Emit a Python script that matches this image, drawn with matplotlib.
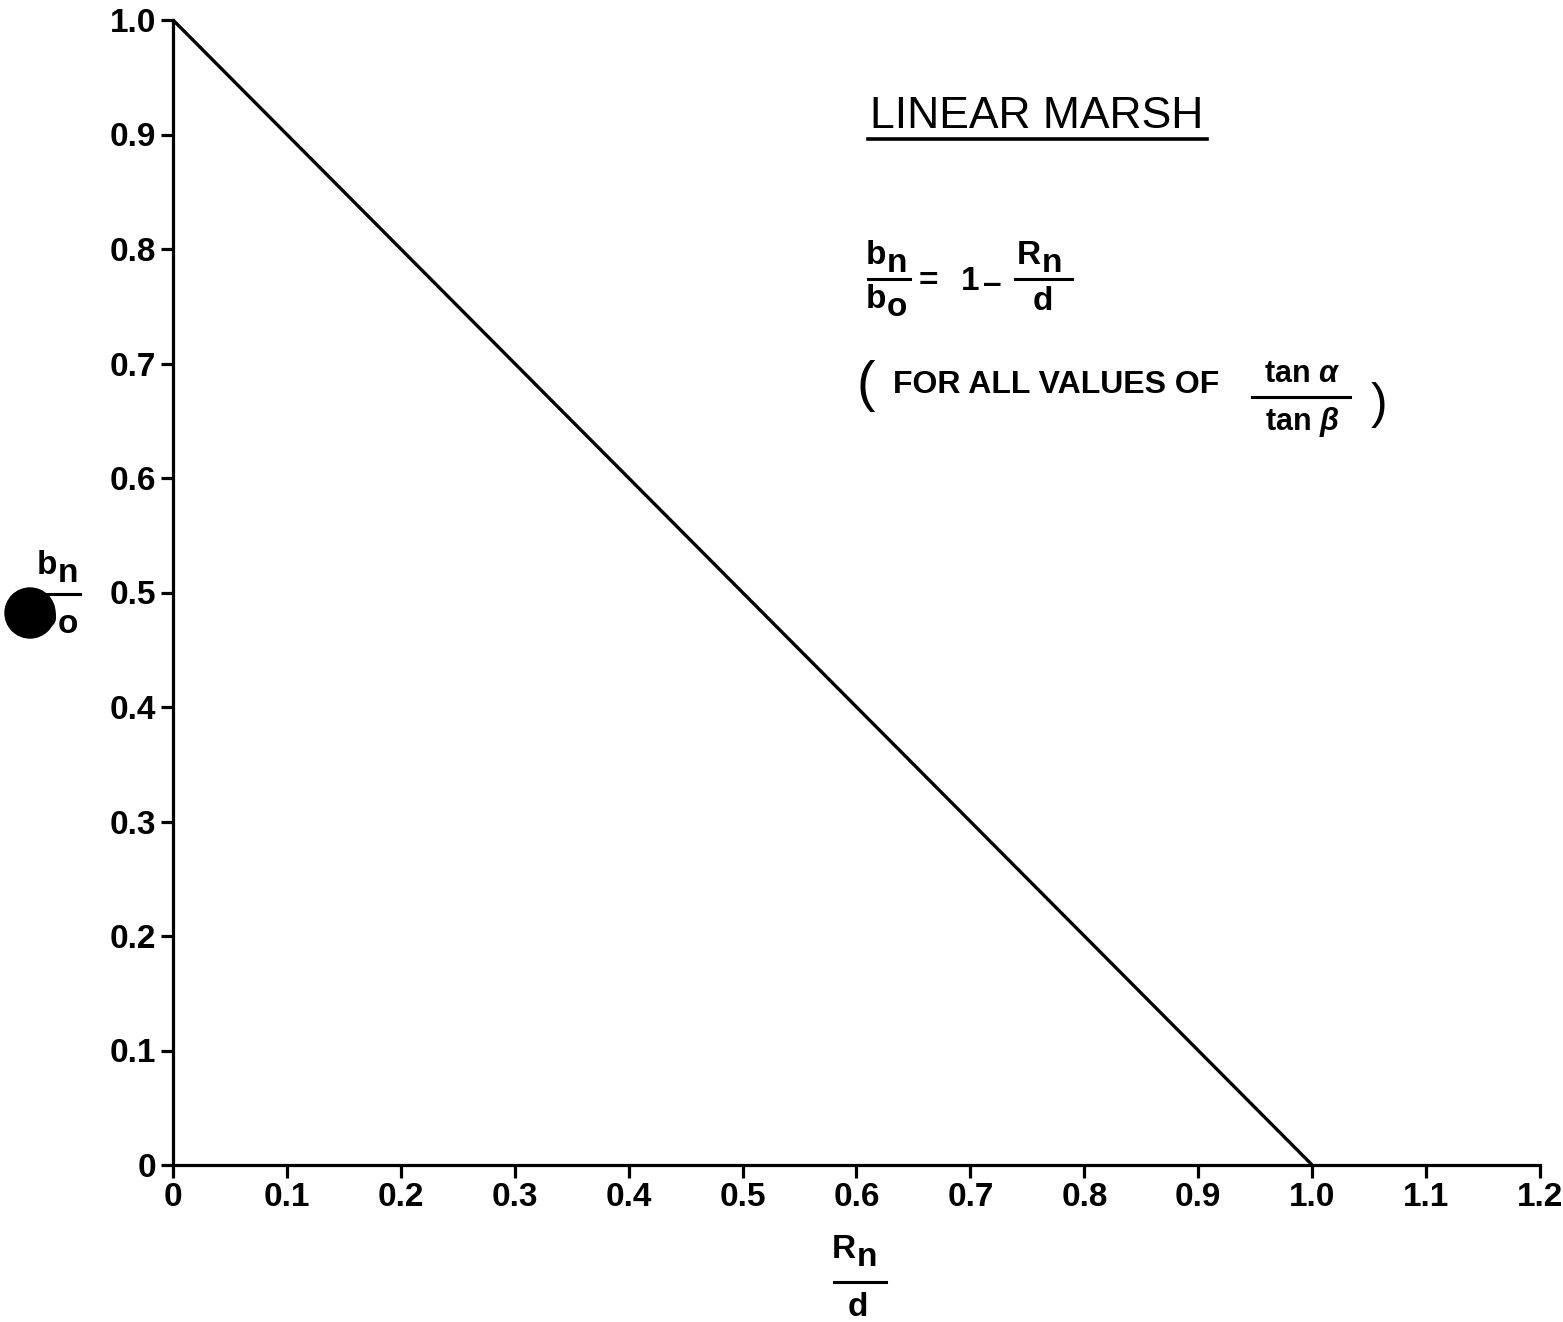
import numpy as np
import matplotlib
matplotlib.use("Agg")
import matplotlib.pyplot as plt
from matplotlib.lines import Line2D
from matplotlib.patches import Circle

# relation b_n/b_o = 1 - R_n/d
rn_over_d = [0.0, 1.0]
bn_over_bo = [1.0, 0.0]

x_ticks = [0, 0.1, 0.2, 0.3, 0.4, 0.5, 0.6, 0.7, 0.8, 0.9, 1.0, 1.1, 1.2]
x_tick_labels = ["0", "0.1", "0.2", "0.3", "0.4", "0.5", "0.6", "0.7", "0.8", "0.9", "1.0", "1.1", "1.2"]
y_ticks = [0, 0.1, 0.2, 0.3, 0.4, 0.5, 0.6, 0.7, 0.8, 0.9, 1.0]
y_tick_labels = ["0", "0.1", "0.2", "0.3", "0.4", "0.5", "0.6", "0.7", "0.8", "0.9", "1.0"]

W, H = 1563, 1322
FONT = "Liberation Sans"

plt.rcParams["font.family"] = [FONT, "DejaVu Sans"]
plt.rcParams["mathtext.fontset"] = "custom"
plt.rcParams["mathtext.it"] = FONT + ":italic:bold"
plt.rcParams["mathtext.rm"] = FONT + ":bold"

fig = plt.figure(figsize=(W / 100, H / 100), dpi=100)
ax = fig.add_axes([173 / W, 1 - 1165 / H, (1540 - 173) / W, (1165 - 20) / H])

ax.plot(rn_over_d, bn_over_bo, color="black", linewidth=2.4, solid_capstyle="butt")

ax.set_xlim(0, 1.2)
ax.set_ylim(0, 1.0)
for side in ["top", "right"]:
    ax.spines[side].set_visible(False)
for side in ["left", "bottom"]:
    ax.spines[side].set_linewidth(2.3)
ax.set_xticks(x_ticks)
ax.set_xticklabels(x_tick_labels, fontsize=24, fontweight="bold")
ax.set_yticks(y_ticks)
ax.set_yticklabels(y_tick_labels, fontsize=24, fontweight="bold")
ax.tick_params(axis="both", direction="out", length=9, width=2.3, pad=3)
ax.patch.set_alpha(0)


def fx(px):
    return px / W


def fy(py):
    return 1 - py / H


def put(px, py, s, size=24, weight="bold", ha="center", style="normal"):
    fig.text(fx(px), fy(py), s, fontsize=size, fontweight=weight, ha=ha,
             va="center", fontstyle=style)


def hbar(x0, x1, py, lw=2.2):
    fig.add_artist(Line2D([fx(x0), fx(x1)], [fy(py), fy(py)], color="black",
                          linewidth=lw, transform=fig.transFigure))


def with_sub(px, py, base, sub, size=24):
    # base letter ending at px, subscript just right of it and a bit lower
    fig.text(fx(px), fy(py), base, fontsize=size, fontweight="bold", ha="right", va="center")
    fig.text(fx(px + 1), fy(py + 7), sub, fontsize=size, fontweight="bold", ha="left", va="center")


# title block
put(870, 117, "LINEAR MARSH", size=32, weight="normal", ha="left")
hbar(868, 1207, 139, lw=2.6)

# b_n / b_o = 1 - R_n / d
with_sub(886, 256, "b", "n")
hbar(868, 910, 279)
with_sub(886, 300, "b", "o")
put(928, 281, "=", size=24)
put(970, 281, "1", size=24)
put(992, 284, "\u2013", size=24)
with_sub(1041, 256, "R", "n")
hbar(1015, 1072, 279)
put(1043, 302, "d", size=24)

# (FOR ALL VALUES OF tan a / tan b)
put(866, 386, "(", size=40, weight="normal")
put(893, 385, "FOR ALL VALUES OF", size=23, ha="left")
put(1302, 374, "tan $\\alpha$", size=22)
hbar(1252, 1350, 397)
put(1302, 422, "tan $\\beta$", size=22)
put(1379, 405, ")", size=36, weight="normal")

# y axis label b_n / b_o
with_sub(57, 566, "b", "n")
hbar(35, 80, 594)
with_sub(57, 618, "b", "o")
fig.add_artist(Circle((30 / 100, (H - 613) / 100), 0.25, transform=fig.dpi_scale_trans,
                      color="black", zorder=5))

# x axis label R_n / d
with_sub(856, 1250, "R", "n")
hbar(834, 886, 1282)
put(858, 1307, "d", size=24)

fig.savefig("out.png", dpi=100)
